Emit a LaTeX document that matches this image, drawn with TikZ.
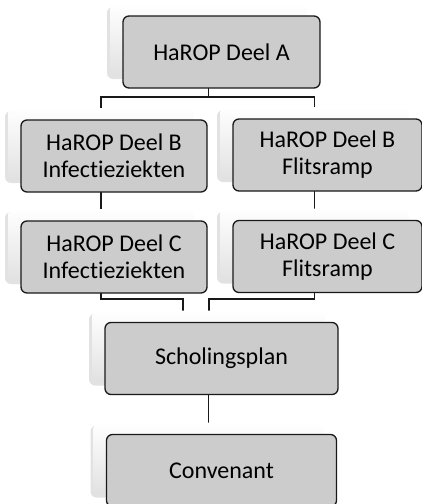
\documentclass[tikz,border=0pt]{standalone}
\usepackage{fontspec}
\setmainfont{Carlito}[Ligatures=NoCommon]
\usepackage{tikz}
\usetikzlibrary{positioning, backgrounds, shadows}
\definecolor{cardfill}{RGB}{204, 204, 204}
\definecolor{cardline}{RGB}{25, 25, 25}
\definecolor{backtop}{RGB}{255, 255, 255}
\definecolor{backbottom}{RGB}{225, 225, 225}
\tikzstyle{card} = [rectangle, rounded corners=6pt, minimum height=72pt, inner sep=0pt, outer sep=0pt, align=center, draw=cardline, line width=1.3pt, fill=cardfill, font=\fontsize{24}{27}\selectfont]
\tikzstyle{backcard} = [rectangle, rounded corners=6pt, minimum height=72pt, inner sep=0pt, outer sep=0pt, top color=backtop, bottom color=backbottom, draw=none, drop shadow={shadow xshift=-3pt, shadow yshift=-3pt, fill=gray!45, opacity=0.5}]
\tikzstyle{line} = [draw=cardline, line width=1.3pt]

\begin{document}
\begin{tikzpicture}[x=1pt, y=-1pt]
    \useasboundingbox (0, 0) rectangle (422, 504);

    % Back cards
    \node[backcard, minimum width=197pt] (aBack) at (208.5, 40) {};
    \node[backcard, minimum width=186pt] (blBack) at (101, 144) {};
    \node[backcard, minimum width=189pt] (brBack) at (314.5, 143) {};
    \node[backcard, minimum width=186pt] (clBack) at (101, 245) {};
    \node[backcard, minimum width=189pt] (crBack) at (314.5, 244.5) {};
    \node[backcard, minimum width=233pt] (sBack) at (208.5, 346.5) {};
    \node[backcard, minimum width=230pt] (vBack) at (208.5, 458.5) {};

    % Cards
    \node[card, minimum width=197pt] (a) at (221.5, 52) {HaROP Deel A};
    \node[card, minimum width=186pt] (bl) at (114, 156) {HaROP Deel B\\Infectieziekten};
    \node[card, minimum width=189pt] (br) at (327.5, 155) {HaROP Deel B\\Flitsramp};
    \node[card, minimum width=186pt] (cl) at (114, 257) {HaROP Deel C\\Infectieziekten};
    \node[card, minimum width=189pt] (cr) at (327.5, 256.5) {HaROP Deel C\\Flitsramp};
    \node[card, minimum width=233pt] (s) at (221.5, 358.5) {Scholingsplan};
    \node[card, minimum width=230pt] (v) at (221.5, 470.5) {Convenant};

    % Connectors
    \coordinate (busAB) at (208.5, 97);
    \coordinate (jl) at (183, 299);
    \coordinate (jr) at (209, 299);
    \begin{scope}[on background layer]
        \draw[line] (aBack) -- (busAB);
        \draw[line] (blBack) |- (busAB) -| (brBack);
        \draw[line] (blBack) -- (clBack);
        \draw[line] (brBack) -- (crBack);
        \draw[line] (clBack) |- (jl) -- (jl |- sBack);
        \draw[line] (crBack) |- (jr) -- (jr |- sBack);
        \draw[line] (sBack) -- (vBack);
    \end{scope}
\end{tikzpicture}
\end{document}
